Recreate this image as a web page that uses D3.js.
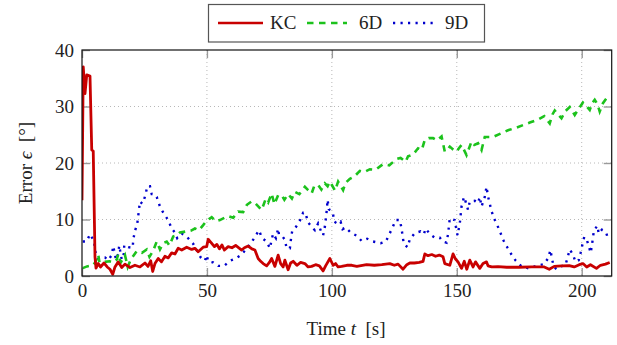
<!DOCTYPE html>
<html><head><meta charset="utf-8">
<script src="https://cdn.jsdelivr.net/npm/d3@7"></script>
<style>
html,body{margin:0;padding:0;background:#fff;}
svg text{font-family:"Liberation Serif","Times New Roman",serif;fill:#222;}
</style></head>
<body><svg id="c" width="617" height="345"></svg>
<script>
const seriesNames = ["KC", "6D", "9D"];
const xTicks = [0, 50, 100, 150, 200];
const yTicks = [0, 10, 20, 30, 40];

const kcT = [0,0.5,1.2,1.9,3.2,3.9,4.5,5.2,5.6,6.5,7.4,8.8,10.1,11.2,12.3,13.2,14.5,15.9,17.2,19.2,21.2,23.2,25.2,26.4,27.5,28.3,29.2,30.5,31.8,33.2,34.5,35.9,37.2,38.5,39.9,41.9,43.9,45.2,46.5,48.5,49.9,50.5,51.5,53,54,55,56,57,58.5,60,61.5,63.9,65,66.5,68,69.2,70.5,71.5,72.5,73.9,75,75.9,77.2,78.5,79.5,80.5,81.2,82.5,83.5,84.5,86,87.5,89.2,90.5,91.9,93.5,95,96.5,97.5,99.2,100.5,101.5,102.5,103.9,106,108,110,113.9,117,120,123.2,125,126.5,128.5,130,131.2,133,135,136.5,137.2,138.5,140,141.5,143,144.5,145.2,147.2,148.5,149.5,150.5,151.9,153,154,155.2,156.5,157.5,159.2,160.5,161.9,162.5,164,166.5,170,175,180,185,187,189,192,195,197,199,200.5,202,203.5,205.9,207.5,209.5,211.2];
const kcV = [13.4,37,32.3,35.6,35.4,22.3,22.1,3.4,1.4,2.2,1.6,2.3,1.6,1.2,0.3,1.6,2.5,1.5,2.1,1.5,1.9,1.6,2.3,1.7,2.7,0.8,2.2,3.1,2.5,3.5,3.2,4.1,3.9,4.9,4.6,5.1,4.7,4.9,4.3,5.1,5.2,6.5,6.0,5.2,5.6,4.8,5.5,4.6,5.2,5.0,5.4,4.6,5.0,5.3,4.8,4.6,3.1,2.6,2.2,1.8,2.4,3.1,1.7,3.7,2.2,1.6,2.8,1.1,2.3,2.6,1.9,2.4,2.2,1.6,1.7,2.0,1.8,0.9,1.8,3.1,1.9,2.2,1.6,1.7,1.9,1.9,1.7,2.0,1.9,2.0,2.2,1.9,2.1,1.2,2.0,2.3,2.3,2.4,2.6,3.9,3.6,3.8,3.5,3.7,3.4,2.2,1.9,3.9,3.0,2.5,1.35,2.6,1.2,2.8,1.6,2.5,1.35,2.2,2.5,1.8,1.6,1.65,1.55,1.55,1.6,1.6,1.2,1.7,1.8,1.85,1.6,2.0,2.2,1.6,2.0,1.35,1.9,2.1,2.4];

const d6T = [0.3,2,4.5,5.5,6.5,7,9,11,12.5,13.9,14.5,15.5,17.2,18.3,19.5,21.9,24,25.9,27,28.5,29.9,31.2,32.5,33.9,35,36.5,38,39.2,41.9,43.5,45.2,46.8,48.5,49.9,51.9,53.5,55.2,57,58.5,60.5,62.5,64.5,66,67.9,69.5,71.9,73.5,74.5,75.9,77,78.5,79.9,81,82.5,84,85.2,87,89.2,90.5,91.9,93,94.5,95.8,97.2,98.3,99.2,100,101.3,102.5,104.5,105.5,107.2,109,111.2,113,115.2,117.5,120.5,123,125.9,127.5,129.5,130.5,132.5,134.5,136,137.2,138.8,140.5,142,143.9,145.2,146.5,147.2,148.5,149.9,151,151.9,153.9,155.9,157,158.5,159.9,161.2,164.5,167.5,170.5,173.5,176.5,179.5,182.5,185,187.2,188.3,189.2,190.5,191.9,193.5,195.2,197.2,198.8,200.5,201.5,203.2,204.2,205.2,206.3,207.2,208.5,210,211.2];
const d6V = [1.4,1.7,1.9,2.6,3.8,2.4,2.5,2.6,2.4,2.9,3.9,2.4,3.7,1.6,2.9,4.4,4.1,4.7,3.4,4.5,6.1,4.7,5.8,6.1,5.4,7.0,7.2,7.7,7.9,8.0,8.4,8.1,9.0,9.8,10.4,9.7,9.9,10.3,10.6,10.3,11.4,11.3,12.6,13.2,12.8,11.7,13.6,13.0,14.6,12.7,14.3,14.3,13.5,14.5,13.7,14.9,14.5,15.8,15.2,14.6,16,16.1,15.3,16.4,15.9,16.7,16.1,15.1,16.7,15.2,16.5,17.2,17.6,18.6,18.4,18.9,18.8,19.8,19.6,20.7,20.9,20.2,21.2,21.5,22.6,22.3,24.1,24.4,24.4,24.0,24.7,22.0,22.5,22.9,22.4,22.0,22.7,23.2,21.4,23.8,23.2,23.5,22.3,24.6,24.6,25.2,25.8,26.2,26.7,27.2,27.7,28.3,27.0,28.6,29.3,28.6,27.9,29.2,29.9,28.5,29.6,30.7,30.3,29.4,30.6,31.2,30.4,29.1,30.6,31.5,31.9];

const d9T = [0.3,1.9,3.2,4.8,5.2,5.6,6.5,8,9.2,10.5,11.9,12.5,13.6,14.5,14.9,15.9,16.8,16.9,18.5,20.3,20.5,21.2,22.1,22.5,22.9,23.2,24.1,24.8,25.5,26.1,27.2,27.9,28.8,29.9,31.2,32.3,32.8,34.5,35.9,37.2,38.1,39.9,41.9,43.2,44.5,46.5,47.5,49.2,49.9,50.5,52.5,54.5,56.9,59.2,61.5,63.9,65.9,67.6,69.2,70.8,72.1,73.9,75.2,75.9,76.5,77.6,78.5,78.8,80.1,81.2,81.9,83.2,83.6,84.1,85.5,87.2,88.5,89.5,90.3,91.9,93.2,94.5,95.6,96.5,97.2,97.9,98.3,98.8,99.6,100.5,101,102.5,103.5,104.3,105.5,107.5,110.1,111.9,114.1,116.5,119.5,121.6,122.9,124.3,125.6,127.2,127.9,128.3,128.8,130.3,131.2,133.2,135.5,136.8,137.6,139.2,141.2,143.2,144.3,145.9,146.5,147.2,149.2,149.6,150.3,151.2,151.9,152.9,153.8,154.5,155.2,157.2,158.5,159.2,159.9,161.2,161.9,162.5,163.9,164.9,166.3,167.5,168.8,170.3,171.9,173.6,175.9,178.8,181.9,184.9,186.5,187.5,188.1,188.9,190,191.6,193.5,194.3,195.2,196.5,197.5,198.8,199.6,200.3,201,201.9,202.8,203.6,204.1,204.9,206.3,206.8,208.1,209.9,210.8];
const d9V = [6.1,6.1,7.4,6.2,4.9,3.5,3.1,3.3,3.3,2.8,3.7,5.3,2.9,3.9,5.4,2.9,4.0,5.5,5.1,5.0,6.4,8.0,9.2,10.6,12.1,13.2,12.8,13.5,14.5,15.9,15.9,14.5,14.5,14.0,12.3,11.4,11.0,9.9,8.4,7.7,6.7,7.5,7.0,6.3,5.7,4.1,3.3,2.7,3.7,2.6,2.4,1.8,1.8,2.7,3.1,3.8,4.9,5.8,6.9,8.1,6.7,6.1,4.9,6.4,7.5,6.7,8.4,7.4,7.1,6.4,4.9,4.9,6.4,7.9,8.6,9.8,11.2,11.2,9.6,8.7,8.1,9.3,8.0,7.2,8.7,11.4,13.5,11.8,11.6,10.9,9.6,9.2,9.6,8.3,8.6,7.7,7.1,6.2,6.6,6.1,5.8,6.1,7.3,8.6,9.9,9.9,8.4,7.1,5.7,5.1,6.5,7.6,7.9,7.4,8.4,7.4,6.8,6.8,6.1,5.9,7.4,10.2,9.9,8.8,7.2,9.3,12.3,14.0,12.8,11.7,13.2,13.3,12.9,14.0,12.3,14.0,15.8,14.1,11.5,10.2,8.9,7.6,6.2,5.0,3.8,2.7,1.7,1.35,1.8,2.1,3.1,4.6,3.0,1.6,1.2,1.7,1.95,3.2,4.7,3.8,2.5,2.8,4.2,5.6,6.9,6.6,5.3,4.1,5.5,8.1,8.9,7.5,8.2,7.5,6.2];

const FONT = '"Liberation Serif","Times New Roman",serif';
const svg = d3.select("#c");
const L = 82, R = 611.7, T = 50, B = 276;
const x = d3.scaleLinear().domain([0, 212]).range([L, R]);
const y = d3.scaleLinear().domain([0, 40]).range([B, T]);

svg.append("defs").append("clipPath").attr("id","clip")
  .append("rect").attr("x",L).attr("y",T).attr("width",R-L).attr("height",B-T);

// grid
const g = svg.append("g");
g.selectAll(".gx").data(xTicks.filter(d=>d>0)).enter().append("line")
  .attr("x1",d=>x(d)).attr("x2",d=>x(d)).attr("y1",T).attr("y2",B)
  .attr("stroke","#b8b8b8").attr("stroke-width",1).attr("stroke-dasharray","1,3");
g.selectAll(".gy").data(yTicks.filter(d=>d>0 && d<40)).enter().append("line")
  .attr("x1",L).attr("x2",R).attr("y1",d=>y(d)).attr("y2",d=>y(d))
  .attr("stroke","#b8b8b8").attr("stroke-width",1).attr("stroke-dasharray","1,3");

// ticks on all four sides (inside)
const tl = 8;
const tickCol = "#9a9a9a";
const xb = svg.append("g").attr("transform",`translate(0,${B})`)
  .call(d3.axisBottom(x).tickValues(xTicks).tickSize(-tl).tickPadding(8).tickFormat(d3.format("d")));
const xt = svg.append("g").attr("transform",`translate(0,${T})`)
  .call(d3.axisTop(x).tickValues(xTicks).tickSize(-tl).tickFormat(""));
const yl = svg.append("g").attr("transform",`translate(${L},0)`)
  .call(d3.axisLeft(y).tickValues(yTicks).tickSize(-tl).tickPadding(8).tickFormat(d3.format("d")));
const yr = svg.append("g").attr("transform",`translate(${R},0)`)
  .call(d3.axisRight(y).tickValues(yTicks).tickSize(-tl).tickFormat(""));
[xb,xt,yl,yr].forEach(a=>{
  a.attr("font-family",FONT);
  a.select(".domain").remove();
  a.selectAll(".tick line").attr("stroke",tickCol).attr("stroke-width",1.4);
  a.selectAll("text").attr("font-size",19).attr("fill","#222").style("font-family",FONT);
});
xb.selectAll("text").attr("dy","0.71em");

// series
const line = d3.line().x(d=>x(d[0])).y(d=>y(d[1]));
const plot = svg.append("g").attr("clip-path","url(#clip)");
const kc = kcT.map((t,i)=>[t,kcV[i]]);
const s6 = d6T.map((t,i)=>[t,d6V[i]]);
const s9 = d9T.map((t,i)=>[t,d9V[i]]);
const cKC = "#c80000", c6 = "#1cc21c", c9 = "#0000cc";
plot.append("path").datum(s9).attr("d",line).attr("fill","none")
  .attr("stroke",c9).attr("stroke-width",2.4).attr("stroke-dasharray","2.2,5.3");
plot.append("path").datum(s6).attr("d",line).attr("fill","none")
  .attr("stroke",c6).attr("stroke-width",2.6).attr("stroke-dasharray","6.5,5.5");
plot.append("path").datum(kc).attr("d",line).attr("fill","none")
  .attr("stroke",cKC).attr("stroke-width",2.8).attr("stroke-linejoin","round");

// frame
svg.append("rect").attr("x",L).attr("y",T).attr("width",R-L).attr("height",B-T)
  .attr("fill","none").attr("stroke","#111").attr("stroke-width",1.2);

// axis titles
const xt2 = svg.append("text").attr("x",346).attr("y",335).attr("text-anchor","middle")
  .attr("font-size",19).style("font-family",FONT);
xt2.append("tspan").text("Time ");
xt2.append("tspan").attr("font-style","italic").text("t");
xt2.append("tspan").text("\u2002[s]");
const yt2 = svg.append("text").attr("transform","translate(32,163) rotate(-90)").attr("text-anchor","middle")
  .attr("font-size",19).style("font-family",FONT);
yt2.append("tspan").text("Error ");
yt2.append("tspan").attr("font-style","italic").text("\u03F5");
yt2.append("tspan").text("\u2002[\u00B0]");

// legend
const lg = svg.append("g");
lg.append("rect").attr("x",208.5).attr("y",4.5).attr("width",276).attr("height",37.5)
  .attr("fill","#fff").attr("stroke","#555").attr("stroke-width",1.2);
const legItems = [
  {name:seriesNames[0], c:cKC, x1:218, x2:263, tx:270, dash:null},
  {name:seriesNames[1], c:c6, x1:307, x2:347, tx:359, dash:"6.5,5.5"},
  {name:seriesNames[2], c:c9, x1:393, x2:436, tx:445, dash:"2.2,5.3"}
];
legItems.forEach(it=>{
  const l = lg.append("line").attr("x1",it.x1).attr("x2",it.x2).attr("y1",23).attr("y2",23)
    .attr("stroke",it.c).attr("stroke-width",2.6);
  if (it.dash) l.attr("stroke-dasharray",it.dash);
  lg.append("text").attr("x",it.tx).attr("y",29).attr("font-size",19).style("font-family",FONT).text(it.name);
});
</script></body></html>
